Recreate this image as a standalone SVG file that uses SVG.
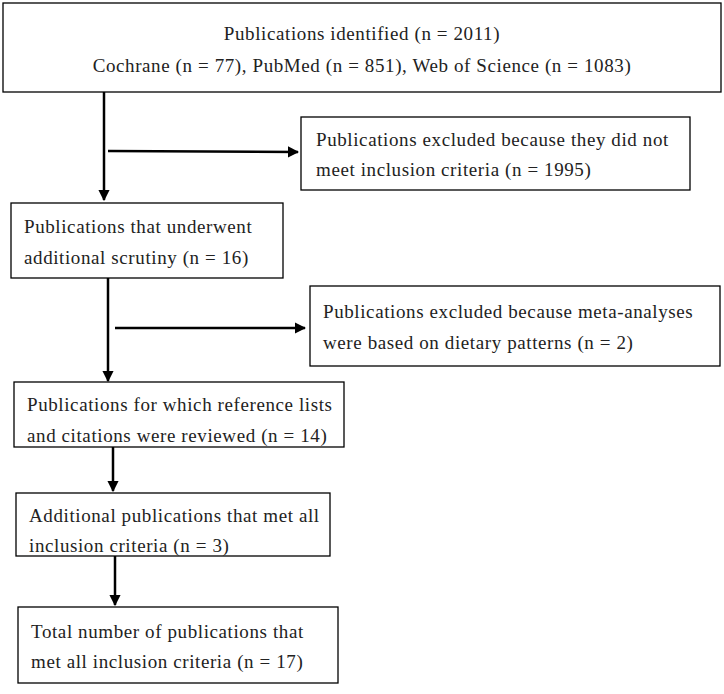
<svg xmlns="http://www.w3.org/2000/svg" width="724" height="694" viewBox="0 0 724 694">
<style>
rect{fill:#fff;stroke:#000;stroke-width:1.3}
text{font-family:"Liberation Serif",serif;font-size:19px;letter-spacing:0.6px;fill:#222}
.c line{stroke:#000;stroke-width:2.5}
</style>
<defs><marker id="a" viewBox="0 0 10 10" refX="9" refY="5" markerWidth="4.5" markerHeight="4.5" orient="auto"><path d="M0,0L10,5L0,10z"/></marker></defs>
<rect width="724" height="694" style="fill:#fff;stroke:none"/>
<g class="c">
<line x1="104" y1="92" x2="104" y2="200" marker-end="url(#a)"/>
<line x1="108" y1="151" x2="298" y2="152" marker-end="url(#a)"/>
<line x1="108" y1="278" x2="108" y2="381" marker-end="url(#a)"/>
<line x1="115" y1="328" x2="305" y2="328" marker-end="url(#a)"/>
<line x1="113" y1="447" x2="113" y2="491" marker-end="url(#a)"/>
<line x1="115" y1="556" x2="115" y2="605" marker-end="url(#a)"/>
</g>
<g id="n1"><rect x="3" y="3" width="718" height="89"/><text x="362" y="40" text-anchor="middle">Publications identified (n = 2011)</text><text x="362" y="72" text-anchor="middle">Cochrane (n = 77), PubMed (n = 851), Web of Science (n = 1083)</text></g>
<g id="n2"><rect x="301" y="117" width="389" height="73"/><text x="316" y="146">Publications excluded because they did not</text><text x="316" y="176">meet inclusion criteria (n = 1995)</text></g>
<g id="n3"><rect x="11" y="203" width="272" height="75"/><text x="24" y="233">Publications that underwent</text><text x="24" y="264">additional scrutiny (n = 16)</text></g>
<g id="n4"><rect x="310" y="286" width="410" height="80"/><text x="323" y="318">Publications excluded because meta-analyses</text><text x="323" y="349">were based on dietary patterns (n = 2)</text></g>
<g id="n5"><rect x="14" y="382" width="330" height="65"/><text x="27" y="411">Publications for which reference lists</text><text x="27" y="442">and citations were reviewed (n = 14)</text></g>
<g id="n6"><rect x="16" y="493" width="314" height="63"/><text x="29" y="522">Additional publications that met all</text><text x="29" y="552">inclusion criteria (n = 3)</text></g>
<g id="n7"><rect x="18" y="607" width="320" height="76"/><text x="31" y="638">Total number of publications that</text><text x="31" y="668">met all inclusion criteria (n = 17)</text></g>
</svg>
